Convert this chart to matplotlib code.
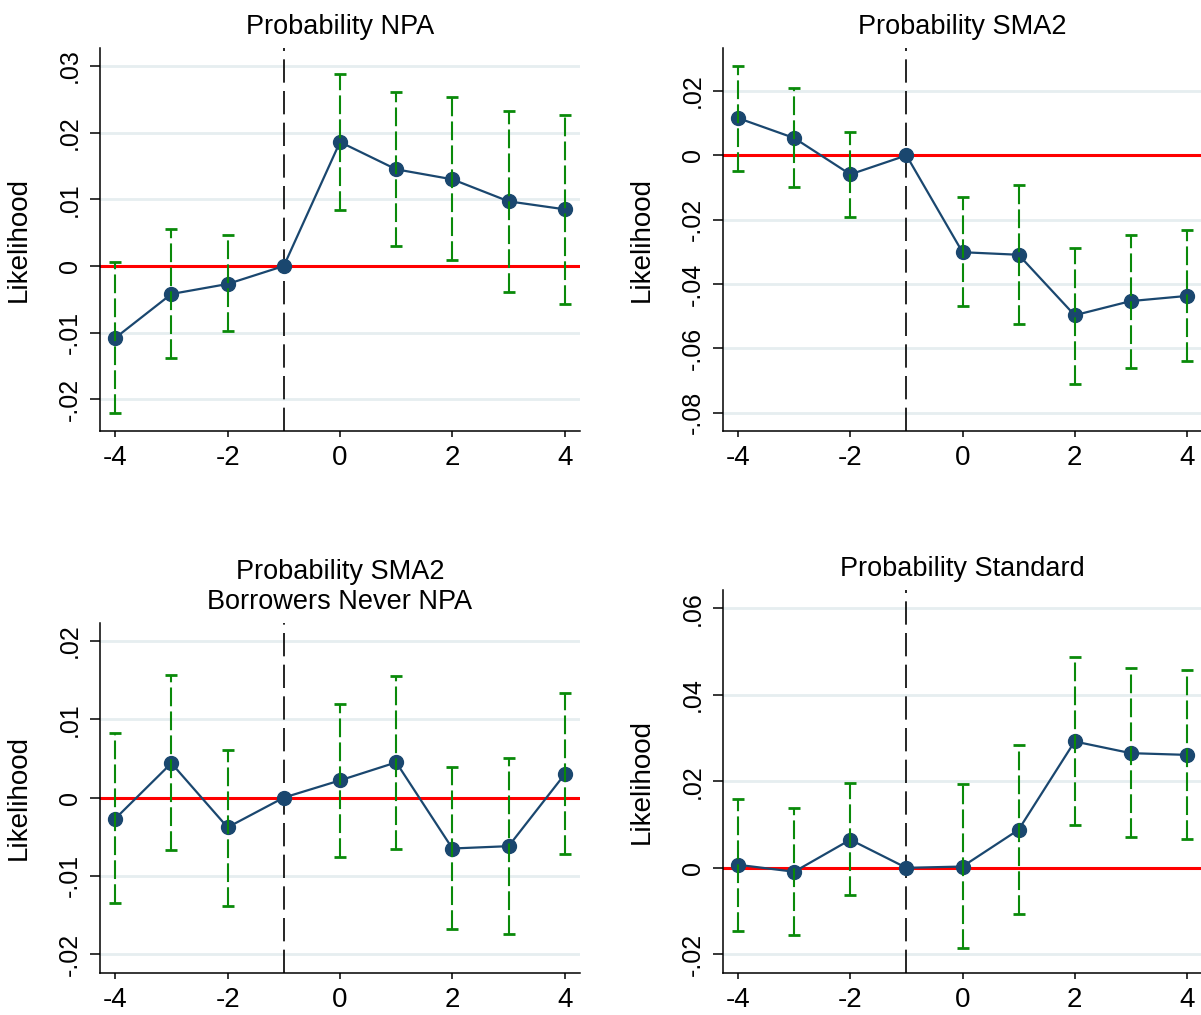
import numpy as np
import matplotlib
matplotlib.use("Agg")
import matplotlib.pyplot as plt

plt.rcParams["font.family"] = ["Liberation Sans", "DejaVu Sans"]
plt.rcParams["axes.unicode_minus"] = False

# event time (years relative to treatment), -1 is the omitted period
periods = [-4, -3, -2, -1, 0, 1, 2, 3, 4]

# Probability NPA
npa_est = [-0.0108, -0.0042, -0.0027, 0, 0.0186, 0.0145, 0.0130, 0.0097, 0.0085]
npa_lo = [-0.0220, -0.0138, -0.0098, 0, 0.0084, 0.0030, 0.0009, -0.0039, -0.0057]
npa_hi = [0.0006, 0.0056, 0.0046, 0, 0.0288, 0.0261, 0.0254, 0.0232, 0.0227]

# Probability SMA2
sma2_est = [0.0116, 0.0054, -0.0059, 0, -0.0301, -0.0309, -0.0497, -0.0453, -0.0437]
sma2_lo = [-0.0047, -0.0098, -0.0192, 0, -0.0469, -0.0523, -0.0710, -0.0660, -0.0639]
sma2_hi = [0.0278, 0.0209, 0.0073, 0, -0.0129, -0.0091, -0.0289, -0.0246, -0.0232]

# Probability SMA2, borrowers never NPA
never_est = [-0.0027, 0.0044, -0.0038, 0, 0.0022, 0.0045, -0.0065, -0.0062, 0.0030]
never_lo = [-0.0135, -0.0067, -0.0138, 0, -0.0076, -0.0065, -0.0168, -0.0174, -0.0072]
never_hi = [0.0082, 0.0156, 0.0061, 0, 0.0120, 0.0155, 0.0039, 0.0050, 0.0133]

# Probability Standard
std_est = [0.0007, -0.0009, 0.0065, 0, 0.0003, 0.0088, 0.0292, 0.0265, 0.0261]
std_lo = [-0.0145, -0.0155, -0.0063, 0, -0.0185, -0.0107, 0.0099, 0.0072, 0.0067]
std_hi = [0.0159, 0.0139, 0.0195, 0, 0.0193, 0.0284, 0.0487, 0.0462, 0.0456]

x_ticks = [-4, -2, 0, 2, 4]
npa_ticks = [-0.02, -0.01, 0, 0.01, 0.02, 0.03]
sma2_ticks = [-0.08, -0.06, -0.04, -0.02, 0, 0.02]
never_ticks = [-0.02, -0.01, 0, 0.01, 0.02]
std_ticks = [-0.02, 0, 0.02, 0.04, 0.06]

NAVY = "#1a476f"
GREEN = "#0a8a0a"
GRID = "#e6eef0"


def stata_label(v):
    # Stata style: .03, -.01, 0
    if abs(v) < 1e-12:
        return "0"
    s = f"{v:.2f}"
    return s.replace("0.", ".")


def panel(rect, title, est, lo, hi, yticks, ylim):
    ax = fig.add_axes(rect)
    est = np.array(est)
    lo = np.array(lo)
    hi = np.array(hi)
    x = np.array(periods)

    ax.set_xlim(-4.27, 4.27)
    ax.set_ylim(*ylim)

    for t in yticks:
        ax.axhline(t, color=GRID, linewidth=2.0, zorder=0)
    ax.axhline(0, color="red", linewidth=2.2, zorder=1)
    ax.axvline(-1, color="black", linewidth=1.2, linestyle=(0, (14, 5)), zorder=1)

    ax.plot(x, est, color=NAVY, linewidth=1.6, marker="o", markersize=10,
            markeredgecolor=NAVY, zorder=3)

    m = hi != lo
    eb = ax.errorbar(x[m], est[m], yerr=[est[m] - lo[m], hi[m] - est[m]], fmt="none",
                     ecolor=GREEN, elinewidth=1.5, capsize=4, capthick=2, zorder=4)
    eb[2][0].set_linestyle((0, (9, 2.5)))

    ax.set_xticks(x_ticks)
    ax.set_yticks(yticks, [stata_label(t) for t in yticks], rotation=90, va="center")
    ax.tick_params(axis="y", length=7, width=1.1, pad=6, labelsize=18)
    ax.tick_params(axis="x", length=4, width=1.1, pad=6, labelsize=20)

    for side in ["top", "right"]:
        ax.spines[side].set_visible(False)
    for side in ["left", "bottom"]:
        ax.spines[side].set_linewidth(1.1)

    ax.set_ylabel("Likelihood", fontsize=20)
    ax.yaxis.set_label_coords(-0.143, 0.5)
    ax.set_title(title, fontsize=19.5, pad=10)
    return ax


fig = plt.figure(figsize=(12.01, 10.15), dpi=100)

W, H = 1201, 1015
left1, left2 = 100, 723
w1, w2 = 480, 479

panel([left1 / W, 1 - 431 / H, w1 / W, 383 / H], "Probability NPA",
      npa_est, npa_lo, npa_hi, npa_ticks, (-0.02475, 0.0327))
panel([left2 / W, 1 - 431 / H, w2 / W, 383 / H], "Probability SMA2",
      sma2_est, sma2_lo, sma2_hi, sma2_ticks, (-0.0857, 0.0334))
panel([left1 / W, 1 - 973 / H, w1 / W, 350 / H], "Probability SMA2\nBorrowers Never NPA",
      never_est, never_lo, never_hi, never_ticks, (-0.0224, 0.0223))
panel([left2 / W, 1 - 973 / H, w2 / W, 383 / H], "Probability Standard",
      std_est, std_lo, std_hi, std_ticks, (-0.0243, 0.0642))

fig.savefig("out.png", dpi=100, facecolor="white")
